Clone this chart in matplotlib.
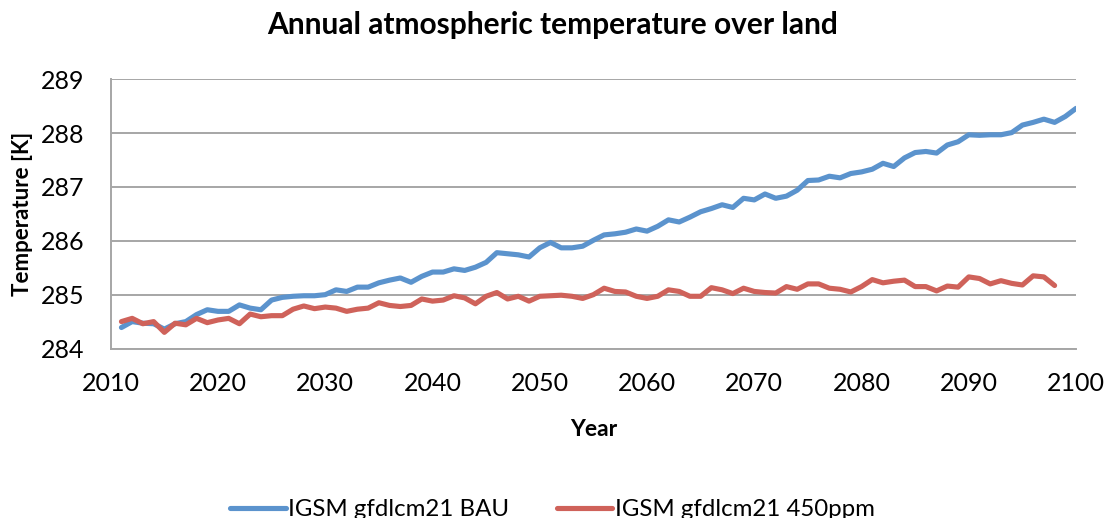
import numpy as np
import matplotlib
matplotlib.use("Agg")
import matplotlib.pyplot as plt

plt.rcParams['font.family'] = ['Lato', 'DejaVu Sans']

# Datos (temperatura anual en K)
years_bau = list(range(2011, 2101))
temp_bau = [
    284.39, 284.50, 284.47, 284.46, 284.36, 284.46, 284.50, 284.63, 284.72, 284.69,
    284.69, 284.81, 284.75, 284.72, 284.90, 284.95, 284.97, 284.98, 284.98, 285.00,
    285.09, 285.06, 285.14, 285.14, 285.22, 285.27, 285.31, 285.23, 285.34, 285.42,
    285.42, 285.48, 285.45, 285.51, 285.60, 285.78, 285.76, 285.74, 285.70, 285.87,
    285.97, 285.87, 285.87, 285.90, 286.01, 286.11, 286.13, 286.16, 286.22, 286.18,
    286.27, 286.39, 286.35, 286.44, 286.54, 286.60, 286.67, 286.62, 286.79, 286.76,
    286.87, 286.79, 286.83, 286.94, 287.12, 287.13, 287.20, 287.17, 287.25, 287.28,
    287.33, 287.44, 287.38, 287.54, 287.64, 287.66, 287.63, 287.78, 287.84, 287.97,
    287.96, 287.97, 287.97, 288.01, 288.15, 288.20, 288.26, 288.20, 288.31, 288.46,
]

years_450 = list(range(2011, 2099))
temp_450 = [
    284.50, 284.56, 284.46, 284.50, 284.30, 284.47, 284.44, 284.56, 284.48, 284.53,
    284.56, 284.46, 284.64, 284.59, 284.61, 284.61, 284.73, 284.79, 284.74, 284.77,
    284.75, 284.69, 284.73, 284.75, 284.85, 284.80, 284.78, 284.80, 284.92, 284.88,
    284.90, 284.98, 284.94, 284.83, 284.97, 285.04, 284.92, 284.97, 284.88, 284.97,
    284.98, 284.99, 284.97, 284.93, 285.00, 285.12, 285.06, 285.05, 284.97, 284.93,
    284.97, 285.09, 285.06, 284.97, 284.97, 285.13, 285.09, 285.02, 285.12, 285.06,
    285.04, 285.03, 285.15, 285.10, 285.20, 285.20, 285.12, 285.10, 285.05, 285.15,
    285.28, 285.22, 285.25, 285.27, 285.15, 285.15, 285.07, 285.16, 285.14, 285.33,
    285.30, 285.20, 285.26, 285.21, 285.18, 285.35, 285.33, 285.17,
]

x_ticks = list(range(2010, 2101, 10))
y_ticks = [284, 285, 286, 287, 288, 289]

color_bau = '#5B93CD'
color_450 = '#CF625A'
grid_color = '#A6A6A6'

fig = plt.figure(figsize=(11.05, 5.18), dpi=100)
ax = fig.add_axes([0.1002, 0.3272, 0.8736, 0.5197])

ax.plot(years_bau, temp_bau, color=color_bau, linewidth=3.7,
        solid_joinstyle='round', solid_capstyle='round', label="IGSM gfdlcm21 BAU")
ax.plot(years_450, temp_450, color=color_450, linewidth=3.7,
        solid_joinstyle='round', solid_capstyle='round', label="IGSM gfdlcm21 450ppm")

ax.set_xlim(2010, 2100)
ax.set_ylim(284, 289)
ax.set_xticks(x_ticks)
ax.set_yticks(y_ticks)
ax.tick_params(axis='both', length=0, labelsize=18)
ax.tick_params(axis='x', pad=17)
ax.tick_params(axis='y', pad=19)
ax.grid(True, axis='y', color=grid_color, linewidth=1.4)
ax.set_axisbelow(True)

for side in ['top', 'right']:
    ax.spines[side].set_visible(False)
for side in ['left', 'bottom']:
    ax.spines[side].set_color(grid_color)
    ax.spines[side].set_linewidth(1.4)

fig.text(0.5, 0.952, "Annual atmospheric temperature over land",
         ha='center', va='center', fontsize=21.5, fontweight='bold')
ax.set_xlabel("Year", fontsize=16.5, fontweight='bold')
ax.xaxis.set_label_coords(0.5, -0.262)
ax.set_ylabel("Temperature [K]", fontsize=16, fontweight='bold')
ax.yaxis.set_label_coords(-0.080, 0.5)

fig.legend(loc='center', bbox_to_anchor=(0.5, 0.016), ncol=2, frameon=False,
           fontsize=17.3, handlelength=2.3, handletextpad=0.1, columnspacing=2.0)

fig.savefig("out.png", dpi=100)
